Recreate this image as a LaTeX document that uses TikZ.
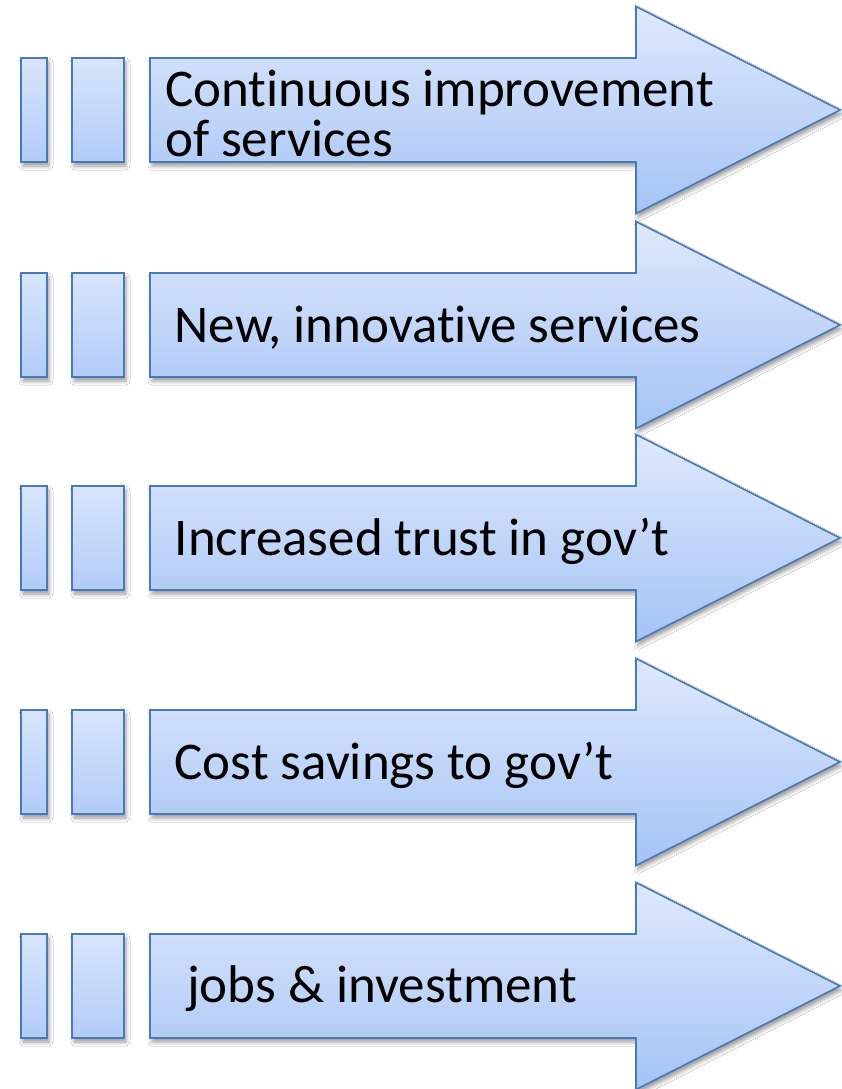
\documentclass[tikz,border=0pt]{standalone}
\usepackage{fontspec}
\setmainfont{Carlito}[Ligatures=NoCommon]
\usetikzlibrary{shadows.blur}
\definecolor{topc}{RGB}{223,233,252}
\definecolor{botc}{RGB}{165,195,245}
\definecolor{bartop}{RGB}{216,229,252}
\definecolor{barbot}{RGB}{178,204,248}
\definecolor{edgec}{RGB}{72,122,186}
\tikzset{
  arrowfill/.style={draw=edgec, line width=1.6pt, top color=topc, bottom color=botc, line join=miter,
    blur shadow={shadow xshift=2pt, shadow yshift=-4pt, shadow blur radius=4pt, shadow opacity=40}},
  barbox/.style={draw=edgec, line width=1.6pt, top color=bartop, bottom color=barbot, inner sep=0pt, outer sep=0pt,
    minimum height=104pt,
    blur shadow={shadow xshift=2pt, shadow yshift=-4pt, shadow blur radius=4pt, shadow opacity=40}},
  lbl/.style={font=\fontsize{53}{51}\selectfont, anchor=base west, inner sep=0pt, text=black},
}
\newcommand\arrowrow[2]{%
  \node[barbox, minimum width=26pt] (bara#2) at (34,#1) {};
  \node[barbox, minimum width=52pt] (barb#2) at (98,#1) {};
  \draw[arrowfill] (150,#1-52) -- (636,#1-52) -- (636,#1-103.5) -- (840,#1)
     -- (636,#1+103.5) -- (636,#1+52) -- (150,#1+52) -- cycle;
  \coordinate (tip#2) at (840,#1);
}
\begin{document}
\begin{tikzpicture}[x=1pt,y=-1pt]
  \useasboundingbox (0,0) rectangle (842,1089);
  \fill[white] (0,0) rectangle (842,1089);
  \arrowrow{110}{1}
  \arrowrow{325}{2}
  \arrowrow{538}{3}
  \arrowrow{762}{4}
  \arrowrow{986}{5}
  \node[lbl] (l1a) at (165,107) {Continuous improvement};
  \node[lbl] (l1b) at (165,157) {of services};
  \node[lbl] (l2) at (174.5,342) {New, innovative services};
  \node[lbl] (l3) at (174.5,555) {Increased trust in gov’t};
  \node[lbl] (l4) at (174.5,779) {Cost savings to gov’t};
  \node[lbl] (l5) at (187,1002) {jobs \& investment};
\end{tikzpicture}
\end{document}
